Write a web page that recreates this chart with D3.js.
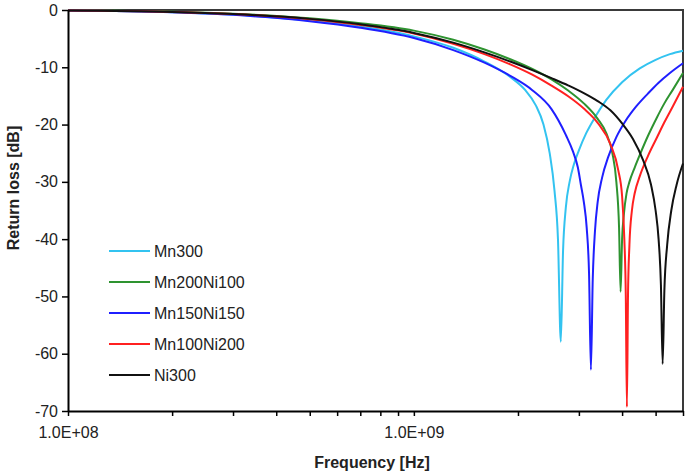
<!DOCTYPE html>
<html><head><meta charset="utf-8">
<script src="https://cdn.jsdelivr.net/npm/d3@7"></script>
<style>
html,body{margin:0;padding:0;background:#fff;}
svg{display:block;font-family:"Liberation Sans",Arial,sans-serif;}
</style></head>
<body><svg id="c" width="685" height="476"></svg>
<script>
// ---- data (frequency in GHz, return loss in dB) ----
const seriesNames = ["Mn300","Mn200Ni100","Mn150Ni150","Mn100Ni200","Ni300"];
const seriesColors = ["#33C3F0","#2E9330","#1F1FFF","#FF2020","#111111"];

const freqMn300 = [0.1,0.2,0.3,0.5,0.7,1.0,1.3,1.6,1.9,2.1,2.25,2.37,2.47,2.55,2.61,2.66,2.70,2.75,2.82,2.9,3.0,3.15,3.35,3.6,4.0,4.5,5.0,5.5,6.0];
const rlMn300   = [-0.1,-0.38,-0.8,-1.85,-2.9,-4.6,-6.6,-9.0,-11.7,-14.0,-16.6,-20.0,-25,-31.5,-40,-57.9,-42,-34.5,-30,-27,-24.5,-21.5,-18.6,-15.7,-12.6,-10.2,-8.7,-7.7,-7.1];

const freqMn200Ni100 = [0.1,0.2,0.3,0.5,0.7,1.0,1.3,1.6,1.9,2.2,2.5,2.8,3.1,3.4,3.6,3.75,3.85,3.92,3.96,4.0,4.05,4.12,4.2,4.35,4.5,4.75,5.04,5.3,5.61,6.0];
const rlMn200Ni100   = [-0.05,-0.3,-0.65,-1.45,-2.3,-3.6,-5.2,-6.9,-8.6,-10.3,-12.1,-14.1,-16.3,-19.0,-21.5,-25,-30,-38,-49.2,-40,-35.5,-32,-30,-27.5,-25.3,-22,-18.8,-16.3,-13.9,-11];

const freqMn150Ni150 = [0.1,0.2,0.3,0.5,0.7,1.0,1.3,1.6,1.9,2.2,2.5,2.75,2.88,2.98,3.04,3.1,3.16,3.21,3.25,3.29,3.34,3.4,3.5,3.65,3.85,4.1,4.4,4.75,5.1,5.5,6.0];
const rlMn150Ni150   = [-0.1,-0.4,-0.85,-1.95,-3.1,-4.9,-7.0,-9.2,-11.5,-14.0,-17.3,-21.8,-24.6,-27.5,-30.5,-33.5,-38,-46,-62.8,-47,-38.5,-33.5,-29.3,-25.6,-22.2,-19.3,-16.8,-14.6,-12.7,-11,-9.3];

const freqMn100Ni200 = [0.1,0.2,0.3,0.5,0.7,1.0,1.3,1.6,1.9,2.2,2.5,2.8,3.1,3.4,3.7,3.9,4.0,4.06,4.1,4.13,4.16,4.2,4.27,4.35,4.5,4.75,5.04,5.3,5.61,6.0];
const rlMn100Ni200   = [-0.1,-0.33,-0.7,-1.6,-2.6,-4.1,-5.9,-7.7,-9.5,-11.3,-13.2,-15.1,-17.2,-19.7,-23.4,-28,-32.5,-40,-50,-69.3,-50,-41,-35,-32,-29,-25.5,-22.3,-19.6,-16.8,-13.4];

const freqNi300 = [0.1,0.2,0.3,0.5,0.7,1.0,1.3,1.6,1.9,2.2,2.5,2.8,3.1,3.4,3.7,4.0,4.3,4.6,4.85,5.0,5.1,5.18,5.24,5.3,5.4,5.55,5.75,6.0];
const rlNi300   = [-0.1,-0.33,-0.7,-1.55,-2.5,-4.0,-5.7,-7.4,-9.0,-10.5,-11.9,-13.2,-14.5,-15.9,-17.5,-19.8,-22.5,-26.2,-30.5,-35,-40,-48,-61.8,-49,-41,-35,-30.5,-26.8];

const seriesFreqs = [freqMn300,freqMn200Ni100,freqMn150Ni150,freqMn100Ni200,freqNi300];
const seriesValues = [rlMn300,rlMn200Ni100,rlMn150Ni150,rlMn100Ni200,rlNi300];

const yTicks = [0,-10,-20,-30,-40,-50,-60,-70];
const xMajorTicks = [1e8,1e9];
const xMajorLabels = ["1.0E+08","1.0E+09"];
const xMinorTicks = [1e8,2e8,3e8,4e8,5e8,6e8,7e8,8e8,9e8,1e9,2e9,3e9,4e9,5e9,6e9];
const xTitle = "Frequency [Hz]";
const yTitle = "Return loss [dB]";

// ---- chart ----
const L=68, R=683, T=10, B=411;
const svg=d3.select("#c");
const x=d3.scaleLog().domain([1e8,6e9]).range([L,R]);
const y=d3.scaleLinear().domain([-70,0]).range([B,T]);

// frame (top/right)
svg.append("path").attr("d",`M${L},${T}H${R}V${B}`).attr("fill","none").attr("stroke","#3a3a3a").attr("stroke-width",2);

// series
const line=d3.line().x(d=>x(d[0]*1e9)).y(d=>y(d[1])).curve(d3.curveMonotoneX);
const g=svg.append("g");
seriesNames.forEach((n,i)=>{
  const pts=seriesFreqs[i].map((f,j)=>[f,seriesValues[i][j]]);
  g.append("path").datum(pts).attr("d",line).attr("fill","none")
   .attr("stroke",seriesColors[i]).attr("stroke-width",2);
});

// axes
const ya=svg.append("g").attr("transform",`translate(${L},0)`)
  .call(d3.axisLeft(y).tickValues(yTicks).tickFormat(d=>String(d).replace("\u2212","-")).tickSize(6).tickSizeOuter(0));
ya.select(".domain").attr("stroke","#000").attr("stroke-width",2);
ya.selectAll(".tick line").attr("stroke","#000").attr("stroke-width",1.5);
ya.selectAll(".tick text").attr("font-size",16).attr("fill","#222").attr("x",-10);

const xa=svg.append("g").attr("transform",`translate(0,${B})`)
  .call(d3.axisBottom(x).tickValues(xMinorTicks).tickFormat(d=>{const k=xMajorTicks.indexOf(d);return k>=0?xMajorLabels[k]:"";}).tickSize(5).tickSizeOuter(0));
xa.select(".domain").attr("stroke","#000").attr("stroke-width",2);
xa.selectAll(".tick line").attr("stroke","#000").attr("stroke-width",1.5);
xa.selectAll(".tick text").attr("font-size",16).attr("fill","#222").attr("y",16);

// titles
svg.append("text").attr("x",372).attr("y",468).attr("text-anchor","middle")
  .attr("font-size",16).attr("font-weight","bold").attr("fill","#222").text(xTitle);
svg.append("text").attr("transform","translate(19,188) rotate(-90)").attr("text-anchor","middle")
  .attr("font-size",16).attr("font-weight","bold").attr("fill","#222").text(yTitle);

// legend
const lg=svg.append("g");
seriesNames.forEach((n,i)=>{
  const yy=251+i*31;
  lg.append("line").attr("x1",109).attr("x2",150).attr("y1",yy).attr("y2",yy)
    .attr("stroke",seriesColors[i]).attr("stroke-width",2);
  lg.append("text").attr("x",154).attr("y",yy+6).attr("font-size",16).attr("fill","#222").text(n);
});
</script></body></html>
